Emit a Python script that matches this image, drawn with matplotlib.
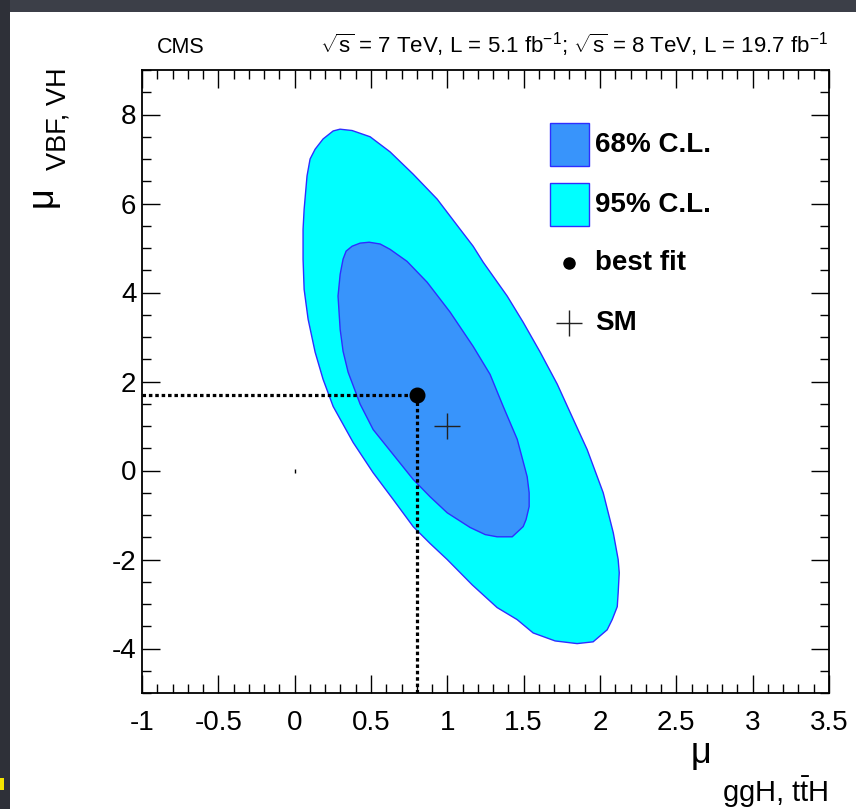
import matplotlib
matplotlib.use("Agg")
import matplotlib.pyplot as plt
from matplotlib.patches import Rectangle
from matplotlib.ticker import MultipleLocator, FuncFormatter

# ---------- STYLE ----------
plt.rcParams['font.family'] = 'Liberation Sans'
plt.rcParams['mathtext.fontset'] = 'custom'
plt.rcParams['mathtext.rm'] = 'Liberation Sans'
plt.rcParams['mathtext.it'] = 'Liberation Sans:italic'
plt.rcParams['mathtext.bf'] = 'Liberation Sans:bold'
plt.rcParams['axes.unicode_minus'] = False

FILL_68 = '#3894fb'
FILL_95 = '#00ffff'
EDGE = '#2e2eff'

# ---------- DATA ----------
# 95% C.L. contour in (mu_ggH,ttH , mu_VBF,VH)
cl95_x = [0.297, 0.376, 0.494, 0.625, 0.776, 0.933, 1.084, 1.169, 1.235, 1.392,
          1.497, 1.608, 1.720, 1.825, 1.916, 2.021, 2.087, 2.119, 2.126, 2.119,
          2.113, 2.080, 2.047, 1.955, 1.850, 1.706, 1.562, 1.457, 1.326, 1.163,
          0.999, 0.887, 0.776, 0.645, 0.514, 0.383, 0.252, 0.186, 0.134, 0.088,
          0.062, 0.055, 0.055, 0.062, 0.081, 0.101, 0.134, 0.186, 0.252]
cl95_y = [7.67, 7.64, 7.50, 7.16, 6.66, 6.10, 5.42, 5.04, 4.68, 3.92,
          3.33, 2.66, 1.94, 1.15, 0.47, -0.50, -1.40, -2.00, -2.30, -2.75,
          -3.06, -3.35, -3.58, -3.85, -3.89, -3.83, -3.65, -3.35, -3.08, -2.57,
          -2.00, -1.64, -1.26, -0.65, -0.05, 0.63, 1.44, 2.05, 2.66, 3.40,
          4.07, 4.75, 5.42, 5.87, 6.62, 7.00, 7.22, 7.45, 7.63]

# 68% C.L. contour
cl68_x = [0.488, 0.560, 0.625, 0.736, 0.868, 1.018, 1.169, 1.280, 1.366, 1.458,
          1.523, 1.536, 1.536, 1.516, 1.497, 1.425, 1.326, 1.248, 1.149, 0.999,
          0.887, 0.776, 0.645, 0.514, 0.429, 0.350, 0.317, 0.298, 0.284, 0.298,
          0.317, 0.337, 0.376, 0.429]
cl68_y = [5.13, 5.09, 4.97, 4.70, 4.23, 3.56, 2.79, 2.16, 1.44, 0.70,
          -0.14, -0.50, -0.81, -1.10, -1.26, -1.49, -1.49, -1.44, -1.28, -0.95,
          -0.59, -0.20, 0.36, 0.92, 1.49, 2.21, 2.68, 3.17, 3.92, 4.41,
          4.75, 4.93, 5.04, 5.11]

best_fit_x, best_fit_y = 0.80, 1.70
sm_x, sm_y = 1.0, 1.0
bkg_x, bkg_y = 0.0, 0.0

legend_labels = ['68% C.L.', '95% C.L.', 'best fit', 'SM']

XLIM = (-1, 3.5)
YLIM = (-5, 9)

# ---------- FIGURE ----------
W, H = 856, 809
fig = plt.figure(figsize=(W / 100, H / 100), dpi=100)
fig.patch.set_facecolor('white')

# dark slide border around the white panel
fig.patches.append(Rectangle((0, 1 - 12 / H), 1, 12 / H, transform=fig.transFigure,
                             facecolor='#3c3f48', edgecolor='none', zorder=0))
fig.patches.append(Rectangle((0, 0), 10 / W, 1, transform=fig.transFigure,
                             facecolor='#2e3038', edgecolor='none', zorder=0))
fig.patches.append(Rectangle((0, 1 - 790 / H), 4 / W, 12 / H, transform=fig.transFigure,
                             facecolor='#f5e400', edgecolor='none', zorder=1))

ax = fig.add_axes([142 / W, 116 / H, 687 / W, 623 / H])
ax.set_xlim(*XLIM)
ax.set_ylim(*YLIM)

# contours
ax.fill(cl95_x, cl95_y, facecolor=FILL_95, edgecolor=EDGE, lw=1.0, zorder=1,
        joinstyle='round')
ax.fill(cl68_x, cl68_y, facecolor=FILL_68, edgecolor=EDGE, lw=1.0, zorder=2,
        joinstyle='round')

# dotted guide lines to the best fit
ax.plot([XLIM[0], best_fit_x], [best_fit_y, best_fit_y], color='black', lw=2.3,
        linestyle=(0, (1.1, 0.9)), zorder=3)
ax.plot([best_fit_x, best_fit_x], [YLIM[0], best_fit_y], color='black', lw=2.3,
        linestyle=(0, (1.1, 0.9)), zorder=3)

ax.plot(best_fit_x, best_fit_y, 'o', color='black', ms=10.5, zorder=4)
ax.plot(sm_x, sm_y, '+', color='#222222', ms=19, mew=1.0, zorder=4)
ax.plot(bkg_x, bkg_y, '|', color='black', ms=2.5, mew=1.0, zorder=4)

# ---------- AXES ----------
ax.xaxis.set_major_locator(MultipleLocator(0.5))
ax.xaxis.set_minor_locator(MultipleLocator(0.1))
ax.yaxis.set_major_locator(MultipleLocator(2))
ax.yaxis.set_minor_locator(MultipleLocator(0.5))
ax.xaxis.set_major_formatter(FuncFormatter(lambda v, p: f'{v:g}'))
ax.yaxis.set_major_formatter(FuncFormatter(lambda v, p: f'{v:g}'))

ax.tick_params(which='both', direction='in', top=True, right=True, width=1.0, color='black')
ax.tick_params(which='major', length=13, labelsize=20)
ax.tick_params(which='minor', length=6.5)
ax.tick_params(axis='x', which='major', pad=12)
ax.tick_params(axis='y', which='major', pad=4)
for sp in ax.spines.values():
    sp.set_linewidth(1.3)

# axis titles
fig.text(701 / W, 1 - 754 / H, '\u03bc', fontsize=26, ha='center', va='center')
fig.text(828 / W, 1 - 802 / H, r'ggH, t$\bar{\mathrm{t}}$H', fontsize=21,
         ha='right', va='baseline')
fig.text(42 / W, 1 - 197 / H, '\u03bc', fontsize=26, ha='center', va='center', rotation=90)
fig.text(59 / W, 1 - 119 / H, 'VBF, VH', fontsize=19.5, ha='center', va='center', rotation=90)

# header
fig.text(157 / W, 1 - 53 / H, 'CMS', fontsize=15.5, ha='left', va='baseline')
fig.text(828 / W, 1 - 53 / H,
         r'$\sqrt{\mathrm{s}}$ = 7 TeV, L = 5.1 fb$^{-1}$; '
         r'$\sqrt{\mathrm{s}}$ = 8 TeV, L = 19.7 fb$^{-1}$',
         fontsize=16, ha='right', va='baseline')

# ---------- LEGEND ----------
box_x0, box_w, box_h = 0.594, 0.057, 0.069
text_x = 0.660
row_y = [0.880, 0.784, 0.690, 0.594]
ax.add_patch(Rectangle((box_x0, row_y[0] - box_h / 2), box_w, box_h, transform=ax.transAxes,
                       facecolor=FILL_68, edgecolor=EDGE, lw=1.0, zorder=5))
ax.add_patch(Rectangle((box_x0, row_y[1] - box_h / 2), box_w, box_h, transform=ax.transAxes,
                       facecolor=FILL_95, edgecolor=EDGE, lw=1.0, zorder=5))
ax.plot(0.622, row_y[2], 'o', color='black', ms=8, transform=ax.transAxes, zorder=5)
ax.plot(0.622, row_y[3], '+', color='#222222', ms=19, mew=1.0, transform=ax.transAxes, zorder=5)
for lab, y in zip(legend_labels, row_y):
    ax.text(text_x, y, lab, transform=ax.transAxes, fontsize=20, fontweight='bold',
            ha='left', va='center', zorder=5)

fig.savefig('out.png', dpi=100)
